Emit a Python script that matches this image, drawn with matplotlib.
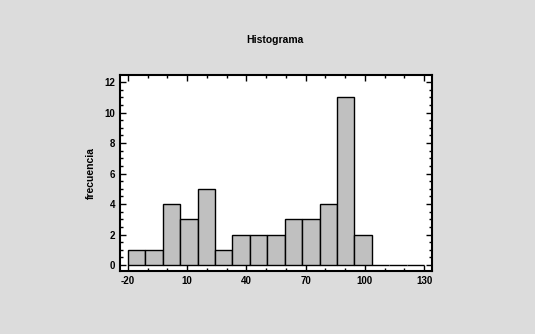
import numpy as np
import matplotlib
matplotlib.use("Agg")
import matplotlib.pyplot as plt
from matplotlib.ticker import MultipleLocator

plt.rcParams['font.family'] = ['Liberation Sans', 'DejaVu Sans']
plt.rcParams['axes.unicode_minus'] = False

# histogram classes: lower limit, upper limit, number of classes
lower, upper, n_classes = -20, 130, 17
counts = [1, 1, 4, 3, 5, 1, 2, 2, 2, 3, 3, 4, 11, 2, 0, 0, 0]
x_ticks = [-20, 10, 40, 70, 100, 130]
y_ticks = [0, 2, 4, 6, 8, 10, 12]

edges = np.linspace(lower, upper, n_classes + 1)
width = edges[1] - edges[0]

fig = plt.figure(figsize=(5.35, 3.34), dpi=100, facecolor="#dcdcdc")
ax = fig.add_axes([0.2243, 0.1895, 0.5832, 0.5859])
ax.set_facecolor("white")

ax.bar(edges[:-1], counts, width=width, align="edge",
       color="#c0c0c0", edgecolor="black", linewidth=1.0)

ax.set_xlim(-24, 134)
ax.set_ylim(-0.37, 12.46)
ax.set_xticks(x_ticks)
ax.set_yticks(y_ticks)
ax.xaxis.set_minor_locator(MultipleLocator(10))
ax.yaxis.set_minor_locator(MultipleLocator(0.5))
ax.tick_params(which="both", direction="in", top=True, right=True,
               labelsize=7, width=1.0, colors="black")
ax.tick_params(which="major", length=4)
ax.tick_params(which="minor", length=2)
ax.tick_params(axis="x", pad=4)
for lab in ax.get_xticklabels() + ax.get_yticklabels():
    lab.set_fontweight("bold")
for s in ax.spines.values():
    s.set_linewidth(1.5)

ax.set_ylabel("frecuencia", fontsize=7.5, fontweight="bold", labelpad=6)
fig.text(0.514, 0.88, "Histograma", ha="center", va="center",
         fontsize=7.5, fontweight="bold")

fig.savefig("out.png", dpi=100, facecolor=fig.get_facecolor())
